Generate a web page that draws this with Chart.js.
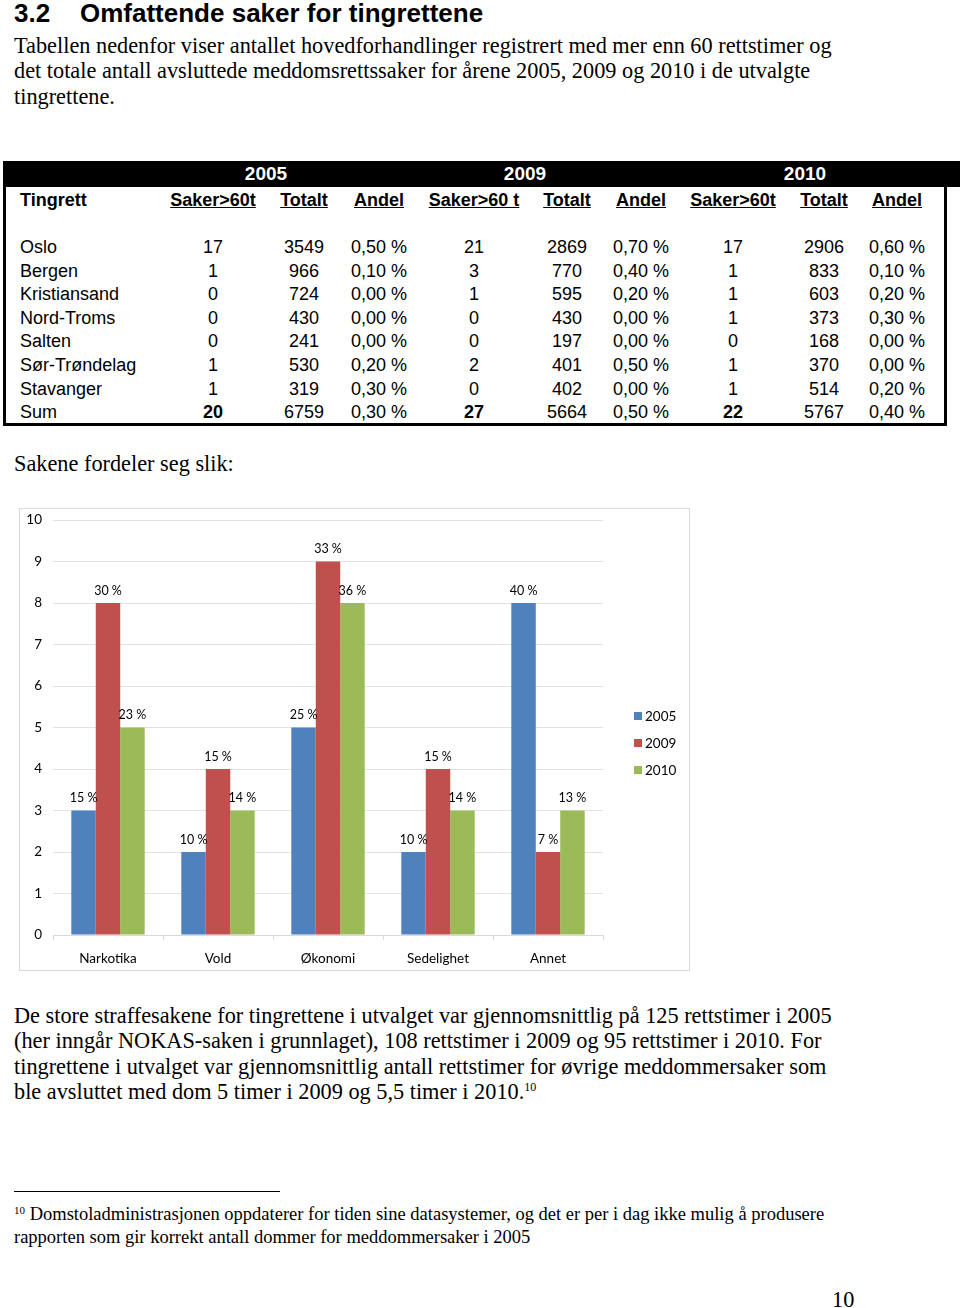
<!DOCTYPE html>
<html>
<head>
<meta charset="utf-8">
<script src="https://cdn.jsdelivr.net/npm/chart.js@4"></script>
<style>
  html, body { margin: 0; padding: 0; background: #fff; }
  body { width: 960px; height: 1308px; position: relative; overflow: hidden; color: #000; }
  .abs { position: absolute; white-space: nowrap; }
  .serif { font-family: "Liberation Serif", "Times New Roman", serif; font-size: 22.3px; line-height: 25.3px; }
  h1 { position: absolute; left: 14px; top: -2px; margin: 0; font: bold 26px "Liberation Sans", Arial, sans-serif; }
  h1 .num { display: inline-block; width: 66px; }
  #yearbar { position: absolute; left: 3px; top: 161px; width: 957px; height: 26px; background: #000; }
  #tablebox { position: absolute; left: 3px; top: 186px; width: 938px; height: 237px;
    border-left: 3px solid #000; border-right: 3px solid #000; border-bottom: 3px solid #000; }
  .cell { position: absolute; font: 18px "Liberation Sans", Arial, sans-serif; line-height: 24px; white-space: nowrap; transform: translateX(-50%); }
  .left { transform: none; }
  .b { font-weight: bold; }
  .u { text-decoration: underline; }
  .yr { color: #fff; font-weight: bold; font-size: 19px; }
  #chartbox { position: absolute; left: 19px; top: 508px; width: 669px; height: 461px; border: 1px solid #d9d9d9; }
  #chartbox canvas { position: absolute; left: 0; top: -8px; }
  #footline { position: absolute; left: 14px; top: 1191px; width: 266px; height: 1px; background: #000; }
  sup { font-size: 12px; vertical-align: 0; position: relative; top: -8px; }
  .foot { font-family: "Liberation Serif", "Times New Roman", serif; font-size: 18.5px; line-height: 21px; }
  .foot sup { font-size: 11px; top: -6px; }
</style>
</head>
<body>
<h1><span class="num">3.2</span>Omfattende saker for tingrettene</h1>
<div class="abs serif" style="left:14px; top:33px;">
  Tabellen nedenfor viser antallet hovedforhandlinger registrert med mer enn 60 rettstimer og<br>
  det totale antall avsluttede meddomsrettssaker for årene 2005, 2009 og 2010 i de utvalgte<br>
  tingrettene.
</div>

<div id="yearbar"></div>
<div id="tablebox"></div>
<div id="table"></div>

<div class="abs serif" style="left:14px; top:451px;">Sakene fordeler seg slik:</div>

<div id="chartbox"><canvas id="chart" width="669" height="468"></canvas></div>

<div class="abs serif" style="left:14px; top:1003px;">
  De store straffesakene for tingrettene i utvalget var gjennomsnittlig på 125 rettstimer i 2005<br>
  (her inngår NOKAS-saken i grunnlaget), 108 rettstimer i 2009 og 95 rettstimer i 2010. For<br>
  tingrettene i utvalget var gjennomsnittlig antall rettstimer for øvrige meddommersaker som<br>
  ble avsluttet med dom 5 timer i 2009 og 5,5 timer i 2010.<sup>10</sup>
</div>

<div id="footline"></div>
<div class="abs foot" style="left:14px; top:1204px;">
  <sup>10</sup> Domstoladministrasjonen oppdaterer for tiden sine datasystemer, og det er per i dag ikke mulig å produsere<br>
  rapporten som gir korrekt antall dommer for meddommersaker i 2005
</div>
<div class="abs serif" style="left:832px; top:1287px;">10</div>

<script>
// table contents
const years = ['2005', '2009', '2010'];
const headers = ['Saker>60t', 'Totalt', 'Andel', 'Saker>60 t', 'Totalt', 'Andel', 'Saker>60t', 'Totalt', 'Andel'];
const courts = ['Oslo', 'Bergen', 'Kristiansand', 'Nord-Troms', 'Salten', 'Sør-Trøndelag', 'Stavanger', 'Sum'];
const saker2005 = [17, 1, 0, 0, 0, 1, 1, 20];
const totalt2005 = [3549, 966, 724, 430, 241, 530, 319, 6759];
const andel2005 = ['0,50 %', '0,10 %', '0,00 %', '0,00 %', '0,00 %', '0,20 %', '0,30 %', '0,30 %'];
const saker2009 = [21, 3, 1, 0, 0, 2, 0, 27];
const totalt2009 = [2869, 770, 595, 430, 197, 401, 402, 5664];
const andel2009 = ['0,70 %', '0,40 %', '0,20 %', '0,00 %', '0,00 %', '0,50 %', '0,00 %', '0,50 %'];
const saker2010 = [17, 1, 1, 1, 0, 1, 1, 22];
const totalt2010 = [2906, 833, 603, 373, 168, 370, 514, 5767];
const andel2010 = ['0,60 %', '0,10 %', '0,20 %', '0,30 %', '0,00 %', '0,00 %', '0,20 %', '0,40 %'];

// chart data
const categories = ['Narkotika', 'Vold', 'Økonomi', 'Sedelighet', 'Annet'];
const series2005 = [3, 2, 5, 2, 8];
const series2009 = [8, 4, 9, 4, 2];
const series2010 = [5, 3, 8, 3, 3];
const labels2005 = ['15 %', '10 %', '25 %', '10 %', '40 %'];
const labels2009 = ['30 %', '15 %', '33 %', '15 %', '7 %'];
const labels2010 = ['23 %', '14 %', '36 %', '14 %', '13 %'];
const yTicks = [0, 1, 2, 3, 4, 5, 6, 7, 8, 9, 10];

const COLORS = ['#4f81bd', '#c0504d', '#9bbb59'];
const CHART_FONT = 'Lato, "Open Sans", sans-serif';

const $ = (id) => document.getElementById(id);

function cell(text, x, y, cls) {
  const el = document.createElement('div');
  el.className = 'cell ' + (cls || '');
  el.textContent = text;
  el.style.left = x + 'px';
  el.style.top = y + 'px';
  $('table').appendChild(el);
}

function renderTable() {
  const yearX = [266, 525, 805];
  years.forEach((y, i) => cell(y, yearX[i], 162, 'yr'));
  const colX = [213, 304, 379, 474, 567, 641, 733, 824, 897];
  cell('Tingrett', 20, 188, 'left b');
  headers.forEach((h, i) => cell(h, colX[i], 188, 'b u'));
  const cols = [saker2005, totalt2005, andel2005, saker2009, totalt2009, andel2009, saker2010, totalt2010, andel2010];
  courts.forEach((c, r) => {
    const y = 235 + r * 23.6;
    const last = r === courts.length - 1;
    cell(c, 20, y, 'left');
    cols.forEach((col, i) => cell(String(col[r]), colX[i], y, last && i % 3 === 0 ? 'b' : ''));
  });
}

const barLabels = {
  id: 'barLabels',
  afterDatasetsDraw(chart) {
    const ctx = chart.ctx;
    const texts = [labels2005, labels2009, labels2010];
    ctx.save();
    ctx.font = '12.5px ' + CHART_FONT;
    ctx.fillStyle = '#000';
    ctx.textAlign = 'center';
    ctx.textBaseline = 'bottom';
    chart.data.datasets.forEach((ds, di) => {
      chart.getDatasetMeta(di).data.forEach((bar, i) => {
        ctx.fillText(texts[di][i], bar.x, bar.y - 6);
      });
    });
    ctx.restore();
  },
};

const sideLegend = {
  id: 'sideLegend',
  afterDraw(chart) {
    const ctx = chart.ctx;
    const x = chart.chartArea.right + 31;
    ctx.save();
    ctx.font = '13.5px ' + CHART_FONT;
    ctx.textBaseline = 'middle';
    chart.data.datasets.forEach((ds, i) => {
      const y = 215 + i * 27;
      ctx.fillStyle = ds.backgroundColor;
      ctx.fillRect(x, y - 4, 8, 8);
      ctx.fillStyle = '#000';
      ctx.fillText(ds.label, x + 11, y + 1);
    });
    ctx.restore();
  },
};

function renderChart() {
  new Chart($('chart'), {
    type: 'bar',
    data: {
      labels: categories,
      datasets: [
        { label: '2005', data: series2005, backgroundColor: COLORS[0] },
        { label: '2009', data: series2009, backgroundColor: COLORS[1] },
        { label: '2010', data: series2010, backgroundColor: COLORS[2] },
      ],
    },
    options: {
      responsive: false,
      animation: false,
      events: [],
      layout: { padding: { top: 0, right: 86, bottom: 0, left: 0 } },
      datasets: { bar: { categoryPercentage: 0.667, barPercentage: 1 } },
      plugins: { legend: { display: false }, tooltip: { enabled: false } },
      scales: {
        x: {
          afterFit: (scale) => { scale.height = 34; },
          ticks: { color: '#000', font: { family: CHART_FONT, size: 13.5 }, padding: 11 },
          grid: { drawOnChartArea: false, color: '#d9d9d9', tickLength: 5, offset: true },
          border: { color: '#d9d9d9' },
        },
        y: {
          min: 0,
          max: 10,
          afterBuildTicks: (scale) => { scale.ticks = yTicks.map((v) => ({ value: v })); },
          afterFit: (scale) => { scale.width = 33; },
          ticks: { color: '#000', font: { family: CHART_FONT, size: 13.5 }, padding: 11 },
          grid: { color: '#e3e3e3', drawTicks: false },
          border: { display: false },
        },
      },
    },
    plugins: [barLabels, sideLegend],
  });
}

renderTable();
renderChart();
</script>
</body>
</html>
